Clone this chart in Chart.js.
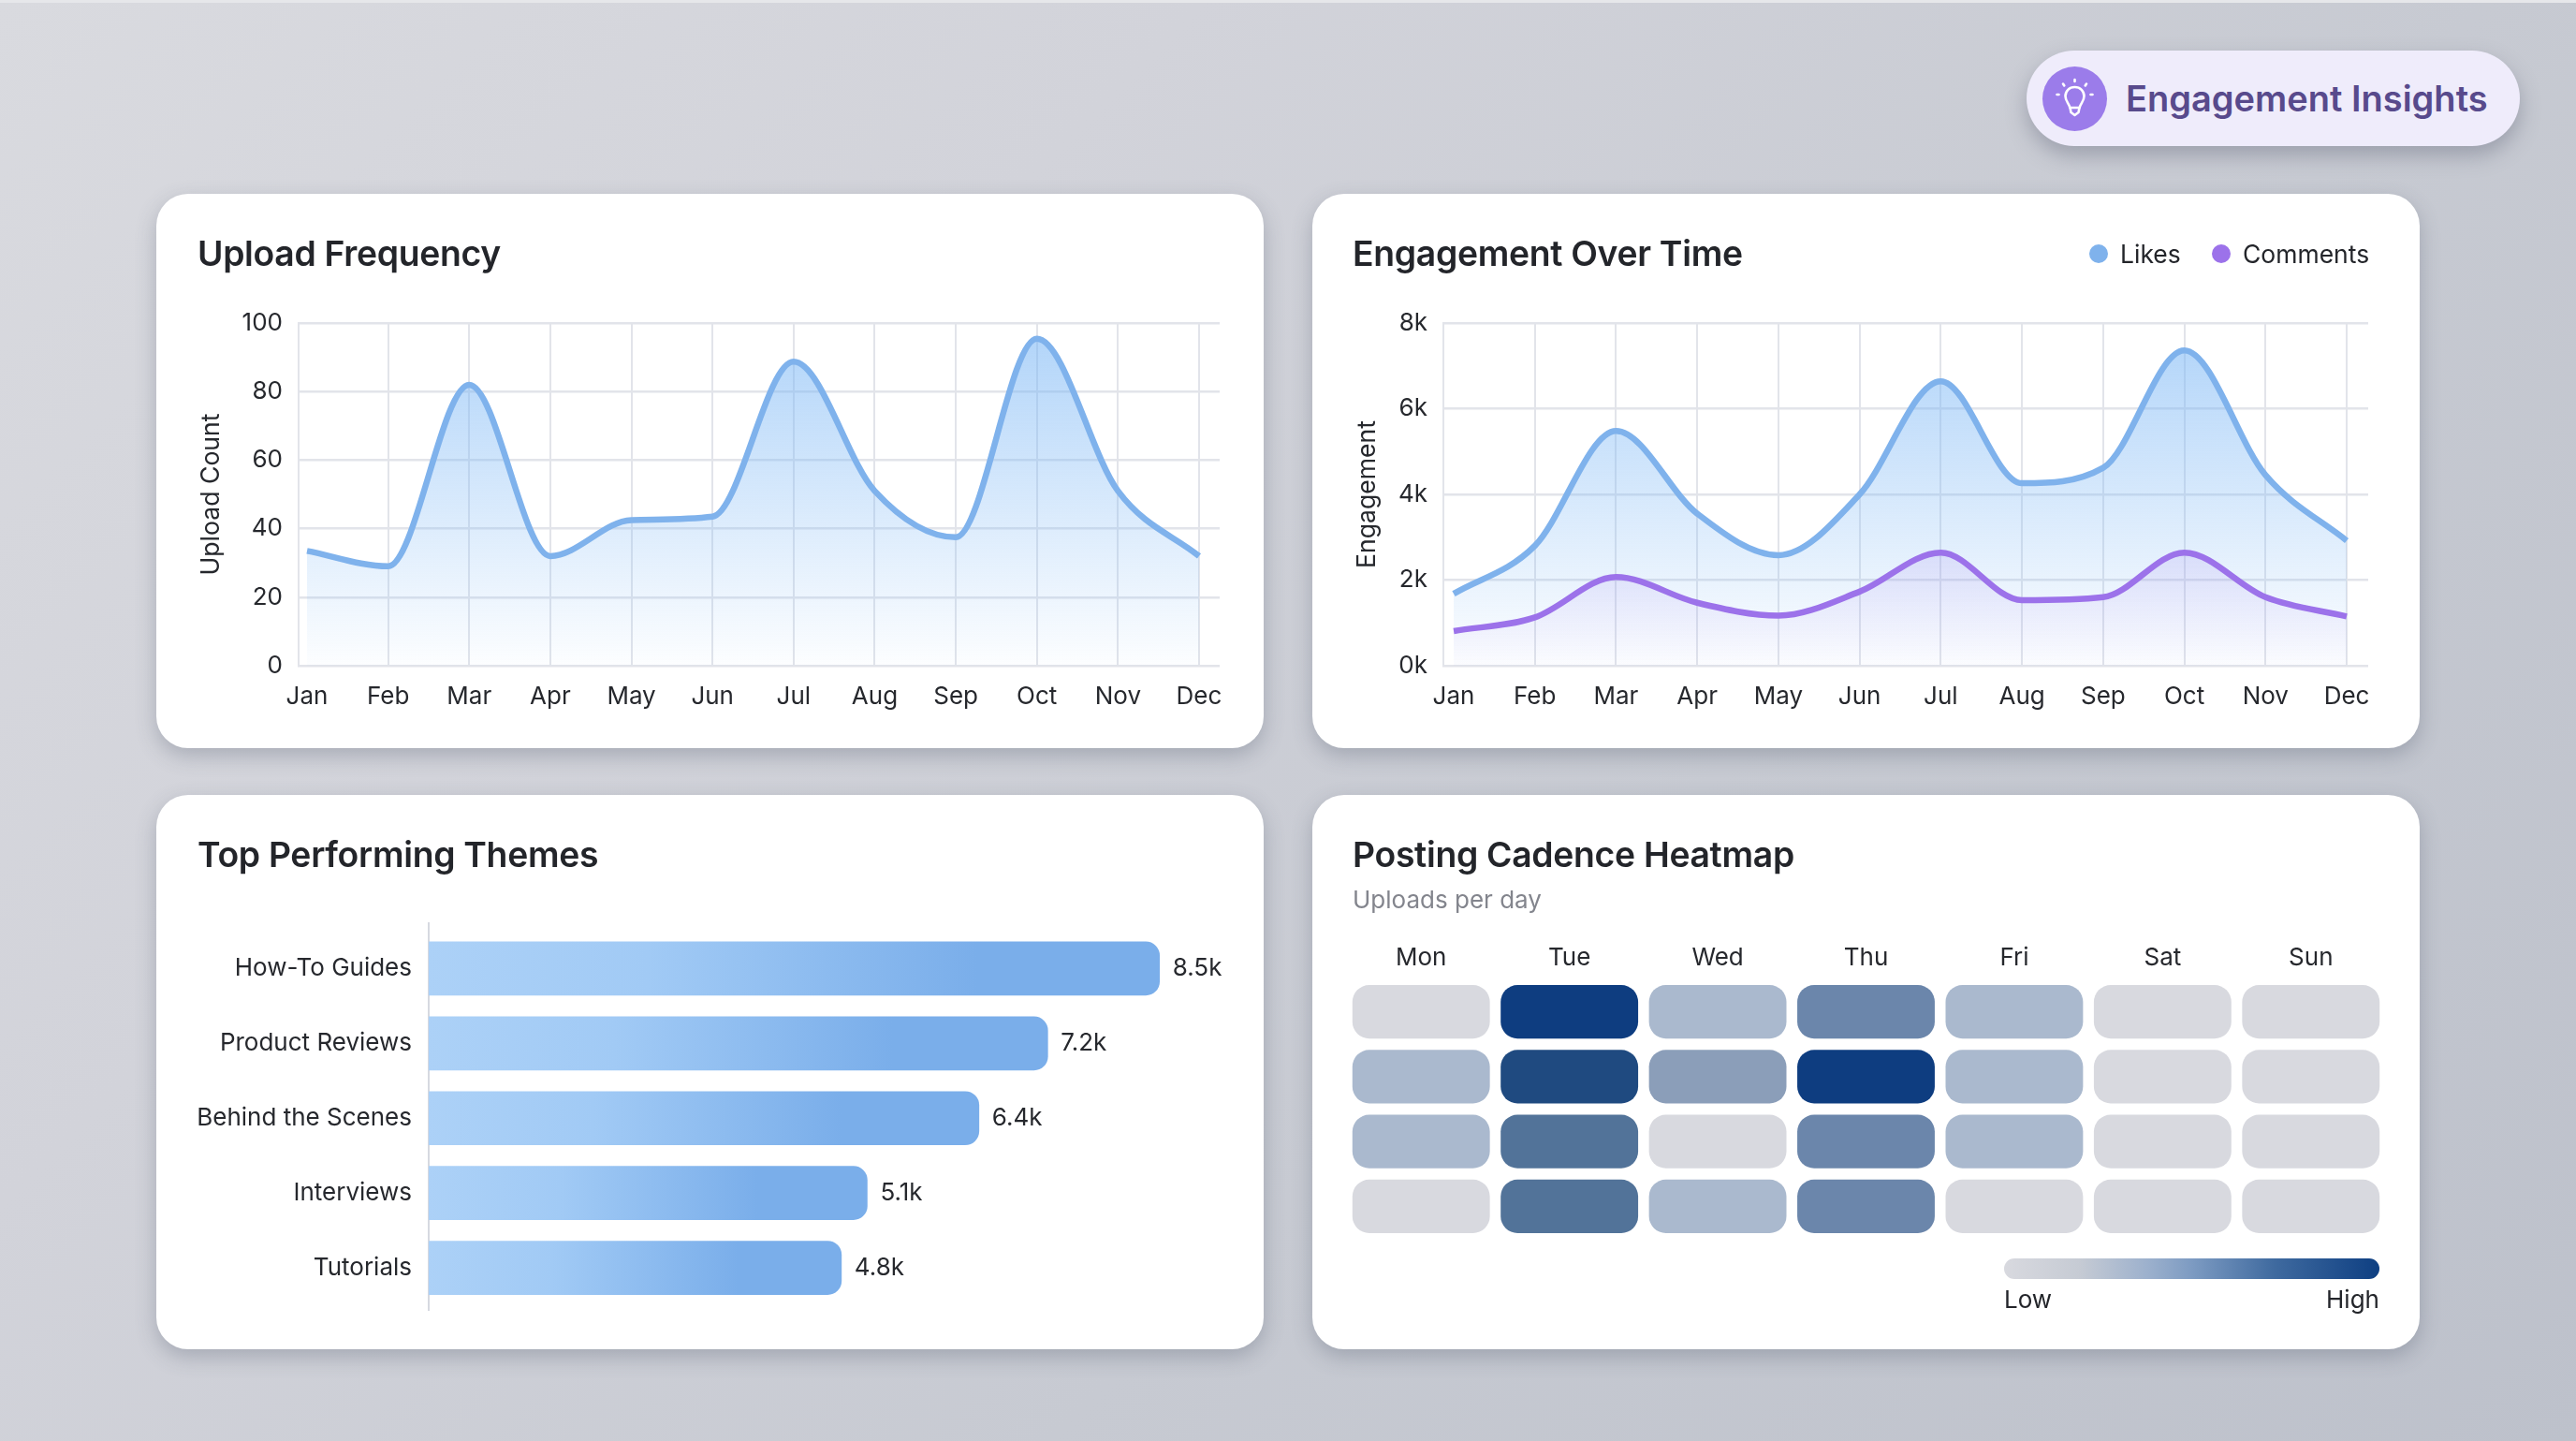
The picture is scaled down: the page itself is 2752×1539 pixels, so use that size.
<!DOCTYPE html>
<html>
<head>
<meta charset="utf-8">
<title>Engagement Insights</title>
<script src="https://cdn.jsdelivr.net/npm/chart.js@4/dist/chart.umd.min.js"></script>
<style>
  * { box-sizing: border-box; }
  html, body { margin: 0; padding: 0; }
  body {
    width: 2752px; height: 1539px; overflow: hidden; position: relative;
    font-family: Inter, "Noto Sans", sans-serif; color: #23252a;
    background: linear-gradient(135deg, #d9dadf 0%, #d2d3da 30%, #c7cad2 62%, #bdc1cb 100%);
  }
  body::before { content: ''; position: absolute; left: 0; top: 0; width: 100%; height: 3px; background: #e6e7ea; }
  .card {
    position: absolute; height: 592px; background: #fff;
    border-radius: 34px; box-shadow: 0 8px 22px rgba(70, 78, 100, .3);
  }
  .card canvas { position: absolute; left: 0; top: 0; }
  .title { position: absolute; font-size: 37.3px; font-weight: 600; line-height: 48px; white-space: nowrap; letter-spacing: -.3px; }
  .sub { position: absolute; left: 43px; top: 95px; font-size: 26px; line-height: 34px; color: #83858d; }
  #c1 { left: 167px; top: 207px; width: 1183px; }
  #c2 { left: 1402px; top: 207px; width: 1183px; }
  #c3 { left: 167px; top: 849px; width: 1183px; }
  #c4 { left: 1402px; top: 849px; width: 1183px; }
  .legend { position: absolute; top: 48px; height: 32px; font-size: 26.5px; line-height: 32px; white-space: nowrap; }
  .legend i { position: absolute; left: -33px; top: 6px; width: 20px; height: 20px; border-radius: 50%; }
  .ramp {
    position: absolute; left: 739px; top: 495px; width: 401px; height: 22px; border-radius: 11px;
    background: linear-gradient(90deg, #d8d9df 0%, #c6cbd4 20%, #9db1cd 38%, #7d9bc2 50%, #3f6a9f 72%, #0e3f82 100%);
  }
  .ramp-label { position: absolute; top: 522px; font-size: 26px; line-height: 34px; }
  #badge {
    position: absolute; left: 2165px; top: 54px; width: 527px; height: 102px; border-radius: 51px;
    background: #efecfb; box-shadow: 0 10px 22px rgba(85, 90, 110, .38);
  }
  #badge .dot { position: absolute; left: 17px; top: 17px; width: 69px; height: 69px; border-radius: 50%; background: #9b7cea; }
  #badge svg { position: absolute; left: 0; top: 0; }
  #badge span { position: absolute; left: 106px; top: 24px; font-size: 38px; line-height: 54px; font-weight: 600; color: #584a8c; white-space: nowrap; }
</style>
</head>
<body>
<div id="badge">
  <div class="dot">
    <svg width="69" height="69" viewBox="0 0 69 69" fill="none" stroke="#fff" stroke-width="2.6" stroke-linecap="round" stroke-linejoin="round">
      <path d="M34.5 22c-6 0-10 4.400-10 9.800 0 5 3.600 7.600 5 12.200h10c1.400-4.600 5-7.200 5-12.200 0-5.400-4-9.800-10-9.800z"/>
      <path d="M29.500 44l1 5 4 3 4-3 1-5"/>
      <path d="M34.500 14v2M22 18.500l1.300 2M47 18.500l-1.300 2M15.500 30h2M51.500 30h2"/>
    </svg>
  </div>
  <span>Engagement Insights</span>
</div>

<div class="card" id="c1">
  <canvas id="uploadChart" width="1183" height="592"></canvas>
  <div class="title" style="left:44px;top:40px">Upload Frequency</div>
</div>

<div class="card" id="c2">
  <canvas id="engagementChart" width="1183" height="592"></canvas>
  <div class="title" style="left:43px;top:40px">Engagement Over Time</div>
  <div class="legend" style="left:863px"><i style="background:#7fb2ec"></i>Likes</div>
  <div class="legend" style="left:994px"><i style="background:#9c72ea"></i>Comments</div>
</div>

<div class="card" id="c3">
  <canvas id="themesChart" width="1183" height="592"></canvas>
  <div class="title" style="left:44px;top:40px">Top Performing Themes</div>
</div>

<div class="card" id="c4">
  <canvas id="heatChart" width="1183" height="592"></canvas>
  <div class="title" style="left:43px;top:40px">Posting Cadence Heatmap</div>
  <div class="sub">Uploads per day</div>
  <div class="ramp"></div>
  <div class="ramp-label" style="left:739px">Low</div>
  <div class="ramp-label" style="right:43px">High</div>
</div>

<script>
/* ── Data ── */
const months = ['Jan', 'Feb', 'Mar', 'Apr', 'May', 'Jun', 'Jul', 'Aug', 'Sep', 'Oct', 'Nov', 'Dec'];
const uploads = [33.5, 29, 82, 32, 42.5, 43.5, 88.7, 51, 37.5, 95.4, 51, 32];
const likes = [1680, 2800, 5480, 3550, 2580, 4000, 6640, 4260, 4620, 7360, 4450, 2920];
const comments = [810, 1130, 2070, 1470, 1170, 1730, 2640, 1530, 1600, 2640, 1600, 1150];

const themes = ['How-To Guides', 'Product Reviews', 'Behind the Scenes', 'Interviews', 'Tutorials'];
const themeViews = [8.5, 7.2, 6.4, 5.1, 4.8];

const days = ['Mon', 'Tue', 'Wed', 'Thu', 'Fri', 'Sat', 'Sun'];
const week1 = [0, 6, 1, 3, 1, 0, 0];
const week2 = [1, 5, 2, 6, 1, 0, 0];
const week3 = [1, 4, 0, 3, 1, 0, 0];
const week4 = [0, 4, 1, 3, 0, 0, 0];
const heatColors = ['#d8d9df', '#aab9ce', '#8b9eb9', '#6b86ab', '#527399', '#1f4a80', '#0e3d80'];

const GRID = '#e2e4ea';
const INK = '#26282d';

Chart.defaults.font.family = 'Inter, "Noto Sans", sans-serif';
Chart.defaults.font.size = 26;
Chart.defaults.color = INK;
Chart.defaults.animation = false;
Chart.defaults.devicePixelRatio = 1;
Chart.defaults.responsive = false;
Chart.defaults.plugins.legend.display = false;
Chart.defaults.plugins.tooltip.enabled = false;

function fixWidth(w) { return scale => { scale.width = w; }; }
function fixHeight(h) { return scale => { scale.height = h; }; }

function areaFill(top, bottom) {
    return ctx => {
        const area = ctx.chart.chartArea;
        if (!area) return top;
        const g = ctx.chart.ctx.createLinearGradient(0, area.top, 0, area.bottom);
        g.addColorStop(0, top);
        g.addColorStop(1, bottom);
        return g;
    };
}

function monthSeries(values) {
    return values.map((v, i) => ({ x: i, y: v }));
}

function lineDataset(values, color, fillTop, fillBottom, order) {
    return {
        data: monthSeries(values),
        borderColor: color,
        borderWidth: 6.5,
        pointRadius: 0,
        cubicInterpolationMode: 'monotone',
        fill: 'origin',
        backgroundColor: areaFill(fillTop, fillBottom),
        order
    };
}

function lineOptions(cfg) {
    return {
        layout: { padding: { left: cfg.left, right: cfg.right, top: 138, bottom: 0 } },
        scales: {
            x: {
                type: 'linear', min: cfg.xMin, max: cfg.xMax,
                afterBuildTicks: s => { s.ticks = months.map((m, i) => ({ value: i })); },
                afterFit: fixHeight(88),
                grid: { color: c => c.index === 0 ? 'transparent' : GRID, lineWidth: 2, drawTicks: false },
                border: { display: false },
                ticks: { callback: v => months[v], padding: 18, autoSkip: false, maxRotation: 0 }
            },
            y: {
                min: 0, max: cfg.yMax,
                afterFit: fixWidth(cfg.yWidth),
                grid: { color: GRID, lineWidth: 2.5, drawTicks: false },
                border: { display: true, color: GRID, width: 2 },
                ticks: { stepSize: cfg.step, callback: cfg.tick, padding: 17 },
                title: { display: true, text: cfg.title, padding: 0, font: { size: 26.6 } }
            }
        }
    };
}

/* ── Upload Frequency ── */
new Chart(document.getElementById('uploadChart'), {
    type: 'line',
    data: { datasets: [lineDataset(uploads, '#7fb2ec', 'rgba(122,182,245,0.6)', 'rgba(122,182,245,0.02)', 1)] },
    options: lineOptions({ left: 43, right: 47, yWidth: 109, xMin: -0.104, xMax: 11.254, yMax: 100, step: 20, tick: v => v, title: 'Upload Count' })
});

/* ── Engagement Over Time ── */
new Chart(document.getElementById('engagementChart'), {
    type: 'line',
    data: {
        datasets: [
            lineDataset(likes, '#7fb2ec', 'rgba(122,182,245,0.6)', 'rgba(122,182,245,0.02)', 2),
            lineDataset(comments, '#9c72ea', 'rgba(156,114,234,0.42)', 'rgba(156,114,234,0.01)', 1)
        ]
    },
    options: lineOptions({ left: 43, right: 55, yWidth: 97, xMin: -0.127, xMax: 11.265, yMax: 8000, step: 2000, tick: v => (v / 1000) + 'k', title: 'Engagement' })
});

/* ── Top Performing Themes ── */
const barEndLabels = {
    id: 'barEndLabels',
    afterDatasetsDraw(chart) {
        const { ctx } = chart;
        const meta = chart.getDatasetMeta(0);
        ctx.save();
        ctx.font = '26px Inter, "Noto Sans", sans-serif';
        ctx.fillStyle = INK;
        ctx.textAlign = 'left';
        ctx.textBaseline = 'middle';
        meta.data.forEach((bar, i) => ctx.fillText(themeViews[i] + 'k', bar.x + 14, bar.y));
        ctx.restore();
    }
};

function barGradient(ctx) {
    const chart = ctx.chart;
    if (!chart.chartArea || ctx.dataIndex === undefined) return '#7aaeea';
    const x0 = chart.scales.x.getPixelForValue(0);
    const x1 = chart.scales.x.getPixelForValue(themeViews[ctx.dataIndex]);
    const g = chart.ctx.createLinearGradient(x0, 0, x1, 0);
    g.addColorStop(0, '#acd1f7');
    g.addColorStop(0.3, '#a1caf5');
    g.addColorStop(0.75, '#7aaeea');
    g.addColorStop(1, '#7aaeea');
    return g;
}

new Chart(document.getElementById('themesChart'), {
    type: 'bar',
    data: {
        datasets: [{
            data: themeViews.map((v, i) => ({ x: v, y: i })),
            backgroundColor: barGradient,
            barThickness: 57,
            borderRadius: { topLeft: 0, bottomLeft: 0, topRight: 15, bottomRight: 15 },
            borderSkipped: false
        }]
    },
    options: {
        indexAxis: 'y',
        layout: { padding: { left: 0, right: 47, top: 137, bottom: 42 } },
        scales: {
            x: { type: 'linear', display: false, min: 0, max: 9.2 },
            y: {
                type: 'linear', reverse: true, offset: false, min: -0.606, max: 4.5625,
                afterBuildTicks: s => { s.ticks = themes.map((t, i) => ({ value: i })); },
                afterFit: fixWidth(291),
                grid: { display: false, drawTicks: false },
                border: { display: true, color: '#d6d9e0', width: 2 },
                ticks: { callback: v => themes[v], padding: 18, autoSkip: false }
            }
        }
    },
    plugins: [barEndLabels]
});

/* ── Posting Cadence Heatmap ── */
const weeks = [week1, week2, week3, week4];
const CELL_INSET = 0.0875;

new Chart(document.getElementById('heatChart'), {
    type: 'bar',
    data: {
        labels: days,
        datasets: weeks.map((week, row) => ({
            data: week.map(() => [row + CELL_INSET, row + 1 - CELL_INSET]),
            backgroundColor: week.map(v => heatColors[v]),
            borderRadius: 18,
            borderSkipped: false,
            inflateAmount: 0,
            grouped: false,
            barPercentage: 0.927,
            categoryPercentage: 1
        }))
    },
    options: {
        layout: { padding: { left: 37, right: 37, top: 150, bottom: 118 } },
        scales: {
            x: {
                position: 'top',
                afterFit: fixHeight(47),
                grid: { display: false, drawTicks: false },
                border: { display: false },
                ticks: { padding: 7, autoSkip: false, maxRotation: 0 }
            },
            y: { type: 'linear', reverse: true, min: 0, max: 4, display: false }
        }
    }
});
</script>
</body>
</html>
